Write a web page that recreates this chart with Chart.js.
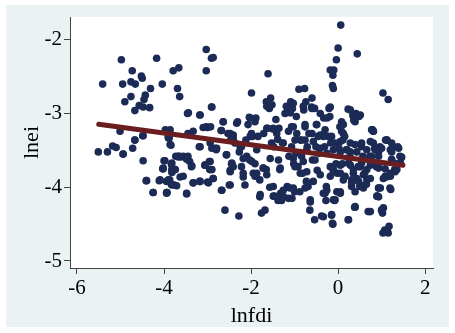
<!DOCTYPE html>
<html>
<head>
<meta charset="utf-8">
<script src="https://cdn.jsdelivr.net/npm/chart.js@4"></script>
<style>
  html, body { margin: 0; padding: 0; background: #fff; }
  canvas { display: block; }
</style>
</head>
<body>
<canvas id="chart" width="455" height="333"></canvas>
<script>
const obs = [
  [-5.51,-3.52],[-5.41,-2.60],[-5.30,-3.52],[-5.18,-3.44],[-5.10,-3.46],[-5.01,-3.24],[-4.98,-2.27],[-4.95,-2.60],
  [-4.94,-3.55],[-4.90,-2.84],[-4.76,-2.77],[-4.73,-2.42],[-4.76,-2.57],[-4.66,-2.60],[-4.72,-3.47],[-4.67,-2.96],
  [-4.67,-3.36],[-4.57,-2.89],[-4.52,-2.49],[-4.50,-2.52],[-4.48,-2.91],[-4.48,-3.30],[-4.48,-3.64],[-4.46,-2.81],
  [-4.43,-2.75],[-4.41,-3.91],[-4.33,-2.92],[-4.31,-2.66],[-4.25,-4.07],[-4.17,-2.25],[-4.11,-3.91],[-4.04,-2.60],
  [-4.02,-3.75],[-4.00,-3.64],[-3.97,-3.22],[-3.94,-3.92],[-3.94,-4.07],[-3.90,-3.31],[-3.87,-3.90],[-3.84,-3.43],
  [-3.83,-3.69],[-3.81,-3.76],[-3.83,-3.96],[-3.79,-2.42],[-3.74,-3.76],[-3.69,-2.66],[-3.66,-2.38],[-3.64,-2.77],
  [-3.76,-3.97],[-3.73,-3.58],[-3.65,-3.58],[-3.63,-3.86],[-3.61,-3.59],[-3.48,-4.08],[-3.46,-3.00],[-3.45,-3.27],
  [-3.45,-3.58],[-3.41,-3.65],[-3.37,-3.72],[-3.33,-3.94],[-3.18,-3.02],[-3.19,-3.45],[-3.18,-3.92],[-3.10,-3.19],
  [-3.06,-3.70],[-3.03,-2.13],[-3.03,-2.42],[-3.00,-3.19],[-3.00,-3.93],[-2.96,-3.65],[-2.94,-3.40],[-2.95,-3.76],
  [-2.91,-2.91],[-2.91,-2.25],[-2.87,-2.24],[-2.87,-3.88],[-2.83,-3.47],[-2.80,-3.49],[-2.68,-3.23],[-2.68,-4.04],
  [-2.64,-3.11],[-2.60,-4.31],[-2.57,-3.56],[-2.53,-3.27],[-2.50,-3.97],[-2.48,-3.77],[-2.45,-3.68],[-2.47,-3.36],
  [-2.41,-3.34],[-2.37,-3.40],[-2.31,-3.11],[-2.28,-4.39],[-2.27,-3.52],[-2.22,-3.45],[-2.22,-3.72],[-2.18,-3.86],
  [-2.14,-3.97],[-2.12,-3.36],[-2.10,-3.58],[-2.07,-3.15],[-2.04,-3.05],[-2.03,-3.63],[-1.99,-2.72],[-1.99,-3.27],
  [-1.97,-3.31],[-1.95,-3.81],[-1.91,-3.68],[-1.89,-3.06],[-1.87,-3.81],[-1.84,-3.31],[-1.80,-3.90],[-1.80,-4.13],
  [-1.76,-4.35],[-1.72,-3.74],[-1.71,-3.27],[-1.68,-4.31],[-1.65,-2.84],[-1.65,-3.76],[-1.62,-3.20],[-1.61,-2.46],
  [-1.58,-2.93],[-1.57,-4.00],[-1.55,-2.79],[-1.53,-3.40],[-1.50,-3.21],[-1.49,-4.12],[-1.48,-3.45],[-1.46,-4.12],
  [-1.43,-3.08],[-1.42,-3.24],[-1.39,-3.35],[-1.38,-4.18],[-1.36,-3.20],[-1.34,-3.76],[-1.32,-4.08],[-1.30,-4.18],
  [-1.28,-3.40],[-1.25,-4.13],[-1.22,-3.00],[-1.19,-2.90],[-1.17,-3.99],[-1.16,-2.95],[-1.14,-3.24],[-1.13,-3.58],
  [-1.11,-4.01],[-1.09,-2.84],[-1.07,-3.45],[-1.06,-4.15],[-1.05,-2.93],[-1.03,-3.18],[-1.02,-3.68],[-1.00,-4.06],
  [-0.99,-3.36],[-0.97,-3.54],[-0.96,-3.04],[-0.92,-3.72],[-0.90,-2.67],[-0.88,-4.06],[-0.87,-3.36],[-0.84,-3.58],
  [-0.82,-3.81],[-0.79,-2.95],[-0.77,-2.66],[-0.76,-3.18],[-0.74,-2.84],[-0.73,-3.92],[-0.71,-3.45],[-0.69,-3.99],
  [-0.67,-3.27],[-0.65,-4.31],[-0.64,-4.20],[-0.61,-2.91],[-0.60,-2.79],[-0.59,-3.63],[-0.57,-3.92],[-0.54,-4.44],
  [-0.54,-2.93],[-0.51,-3.45],[-0.50,-3.15],[-0.48,-3.77],[-0.46,-3.31],[-0.44,-3.54],[-0.41,-3.00],[-0.38,-4.39],
  [-0.36,-3.29],[-0.34,-4.08],[-0.33,-3.06],[-0.31,-3.45],[-0.28,-4.18],[-0.27,-3.99],[-0.25,-3.06],[-0.23,-3.31],
  [-0.21,-2.93],[-0.19,-3.04],[-0.18,-2.41],[-0.17,-3.40],[-0.15,-4.38],[-0.13,-4.49],[-0.13,-2.62],[-0.12,-2.48],
  [-0.11,-2.66],[-0.10,-2.41],[-0.08,-4.18],[-0.05,-3.68],[-0.04,-2.27],[-0.02,-3.81],[0.00,-2.11],[0.02,-3.47],
  [0.04,-3.18],[0.05,-4.08],[0.06,-1.80],[0.08,-3.11],[0.10,-3.68],[0.11,-3.36],[0.15,-3.31],[0.19,-3.49],
  [0.23,-2.94],[0.23,-4.44],[0.27,-3.58],[0.31,-3.90],[0.34,-3.02],[0.36,-3.09],[0.38,-4.27],[0.41,-3.00],
  [0.44,-2.19],[0.46,-3.72],[0.48,-3.04],[0.50,-3.99],[0.54,-3.45],[0.57,-3.58],[0.61,-3.81],[0.65,-3.96],
  [0.69,-4.33],[0.73,-3.58],[0.79,-3.22],[0.84,-3.47],[0.88,-3.72],[0.90,-4.12],[0.93,-4.01],[0.96,-3.45],
  [1.00,-4.31],[1.02,-4.35],[1.03,-2.72],[1.03,-4.62],[1.07,-4.58],[1.09,-3.36],[1.11,-3.86],[1.13,-4.58],
  [1.15,-2.81],[1.15,-4.62],[1.17,-4.53],[1.19,-4.01],[1.20,-3.49],[1.23,-3.63],[1.26,-3.45],[1.30,-3.76],
  [1.34,-3.68],[1.37,-3.45],[1.42,-3.58],[1.45,-3.60],
  // denser middle
  [-0.80,-2.90],[-0.60,-2.93],[-0.18,-2.91],[0.28,-2.95],[0.51,-3.02],[0.35,-3.04],[-0.76,-3.15],[-0.49,-3.15],
  [-0.30,-3.22],[0.12,-3.15],[0.08,-3.24],[0.77,-3.22],[-0.60,-3.27],[-0.41,-3.29],[-0.15,-3.31],[-0.76,-3.36],
  [-0.57,-3.38],[0.05,-3.38],[0.28,-3.40],[0.54,-3.40],[0.74,-3.38],[-0.72,-3.49],[-0.41,-3.47],[-0.11,-3.49],
  [0.20,-3.49],[0.43,-3.52],[0.66,-3.49],[-0.80,-3.65],[-0.53,-3.63],[-0.18,-3.72],[0.05,-3.70],[0.28,-3.70],
  [0.51,-3.72],[0.74,-3.70],[-0.72,-3.79],[-0.41,-3.83],[-0.11,-3.79],[0.16,-3.85],[0.35,-3.81],[0.47,-3.92],
  [0.66,-3.90],[0.31,-3.99],[0.58,-4.01],[-0.76,-4.01],[-0.26,-4.04],[-0.03,-4.06],[-0.64,-4.17],[-0.11,-4.17],
  [0.39,-4.26],
  [-1.64,-2.90],[-1.52,-2.88],[-1.14,-2.90],[-1.03,-2.86],[-1.10,-2.99],[-2.02,-3.06],[-1.91,-3.11],[-2.33,-3.13],
  [-1.64,-3.20],[-1.49,-3.20],[-1.41,-3.27],[-1.07,-3.18],[-0.95,-3.27],[-2.41,-3.29],[-2.02,-3.31],[-1.26,-3.40],
  [-0.84,-3.36],[-2.25,-3.45],[-1.87,-3.49],[-2.18,-3.61],[-1.98,-3.65],[-1.56,-3.61],[-1.37,-3.63],[-1.03,-3.61],
  [-2.41,-3.72],[-1.72,-3.74],[-1.33,-3.74],[-0.99,-3.72],[-2.18,-3.81],[-1.91,-3.85],[-1.64,-3.83],[-0.87,-3.81],
  [-1.49,-3.99],[-1.26,-4.04],[-1.03,-4.01],[-1.79,-4.10],[-1.41,-4.13],[-1.14,-4.15],
  [0.81,-3.24],[1.12,-3.36],[0.81,-3.40],[1.23,-3.40],[1.39,-3.47],[0.85,-3.49],[1.00,-3.47],[0.93,-3.58],
  [1.23,-3.52],[1.23,-3.62],[1.46,-3.59],[0.93,-3.74],[1.08,-3.75],[1.31,-3.79],[1.04,-3.88],[1.20,-3.85],
  [0.93,-4.01],[1.21,-4.03],[0.89,-4.12],[1.04,-4.28],
  [-2.90,-2.91],[-3.44,-2.99],[-3.17,-3.02],[-2.64,-3.11],[-3.03,-3.18],[-2.93,-3.18],[-3.86,-3.22],[-3.33,-3.24],
  [-2.69,-3.23],[-2.48,-3.27],[-3.90,-3.33],[-3.86,-3.42],[-3.17,-3.45],[-2.90,-3.47],[-2.79,-3.47],[-2.56,-3.56],
  [-3.67,-3.58],[-3.56,-3.58],[-3.48,-3.62],[-3.98,-3.64],[-3.82,-3.67],[-3.36,-3.71],[-3.06,-3.70],[-2.94,-3.65],
  [-2.90,-3.76],[-4.02,-3.74],[-3.75,-3.76],[-3.82,-3.80],[-2.44,-3.67],[-2.48,-3.79],[-3.56,-3.85],[-2.87,-3.88],
  [-4.09,-3.90],[-3.90,-3.90],[-3.33,-3.94],[-3.17,-3.92],[-3.82,-3.97],[-3.71,-3.98],[-2.98,-3.94],[-2.48,-3.97],
  [-4.25,-4.07],[-3.94,-4.08],[-3.48,-4.09],[-2.67,-4.04],
  [0.35,-3.76],[0.43,-3.88],[0.31,-3.94],[0.51,-3.97],[0.39,-4.06],[0.58,-3.83],[0.24,-3.67],[0.54,-3.67],
  [0.66,-3.76],[0.12,-3.90],[0.05,-3.81],[-0.11,-3.76],[-0.18,-3.85],[0.74,-3.88],[0.77,-3.58],[0.93,-3.52],
  [0.93,-3.72],[1.08,-3.85],[1.20,-3.81],[1.35,-3.76],[1.43,-3.67],[1.12,-3.36],[0.81,-3.24],[0.39,-3.42],
  [0.28,-3.52],[0.05,-3.52],[-0.26,-3.54],[-0.34,-3.31],[-0.07,-3.40],[0.12,-3.27],[0.39,-3.11],[1.00,-4.31],
  [0.74,-4.33],[0.39,-4.27],[0.24,-4.44],[-0.15,-4.37],[-0.12,-4.50],[-0.34,-4.40],[-0.30,-4.08],[-0.07,-4.17],
  [0.05,-4.06],[0.93,-4.13],[0.97,-4.01],
  [-4.94,-3.55],[-4.67,-3.36],[-4.49,-3.30],[-3.88,-3.33],[-4.03,-3.75],[-3.82,-3.76],[-4.40,-3.91],[-3.93,-4.07],
  [-3.67,-3.59],[-3.48,-3.61]
];

// fitted line end points
const fitX = [-5.5, 1.49];
const fitY = [-3.145, -3.70];

const xTicks = [-6, -4, -2, 0, 2];
const yTicks = [-5, -4, -3, -2];

const serif = "'Liberation Serif', 'Times New Roman', serif";

const backdrop = {
  id: 'backdrop',
  beforeDraw(chart) {
    const { ctx, chartArea: a } = chart;
    ctx.save();
    ctx.fillStyle = '#ffffff';
    ctx.fillRect(0, 0, chart.width, chart.height);
    ctx.fillStyle = '#eaf2f3';
    ctx.fillRect(6, 5, chart.width - 12, chart.height - 11);
    ctx.fillStyle = '#ffffff';
    ctx.fillRect(a.left, a.top, a.right - a.left, a.bottom - a.top);
    ctx.restore();
  }
};

function axis(min, max, tickVals, title, fit) {
  return {
    type: 'linear',
    min, max,
    afterBuildTicks: s => { s.ticks = tickVals.map(v => ({ value: v })); },
    afterFit: fit,
    ticks: { color: '#000', font: { family: serif, size: 21 }, padding: 2 },
    grid: { drawOnChartArea: false, drawTicks: true, tickLength: 6, color: '#444', lineWidth: 1 },
    border: { display: true, color: '#444', width: 1 },
    title: { display: true, text: title, color: '#000', font: { family: serif, size: 22 }, padding: 4 }
  };
}

new Chart(document.getElementById('chart'), {
  data: {
    datasets: [
      {
        type: 'line',
        data: fitX.map((x, i) => ({ x, y: fitY[i] })),
        borderColor: '#6b1e20',
        borderWidth: 5,
        borderCapStyle: 'round',
        pointRadius: 0,
        order: 0
      },
      {
        type: 'scatter',
        data: obs.map(([x, y]) => ({ x, y })),
        backgroundColor: '#1c2b55',
        borderWidth: 0,
        pointRadius: 3.8,
        order: 1
      }
    ]
  },
  options: {
    responsive: false,
    devicePixelRatio: 1,
    animation: false,
    layout: { padding: { left: 15, top: 17, right: 22, bottom: 0 } },
    plugins: { legend: { display: false }, tooltip: { enabled: false } },
    scales: {
      x: axis(-6.16, 2.18, xTicks, 'lnfdi', s => { s.height = 65; }),
      y: axis(-5.095, -1.69, yTicks, 'lnei', s => { s.width = 55; })
    }
  },
  plugins: [backdrop]
});
</script>
</body>
</html>
